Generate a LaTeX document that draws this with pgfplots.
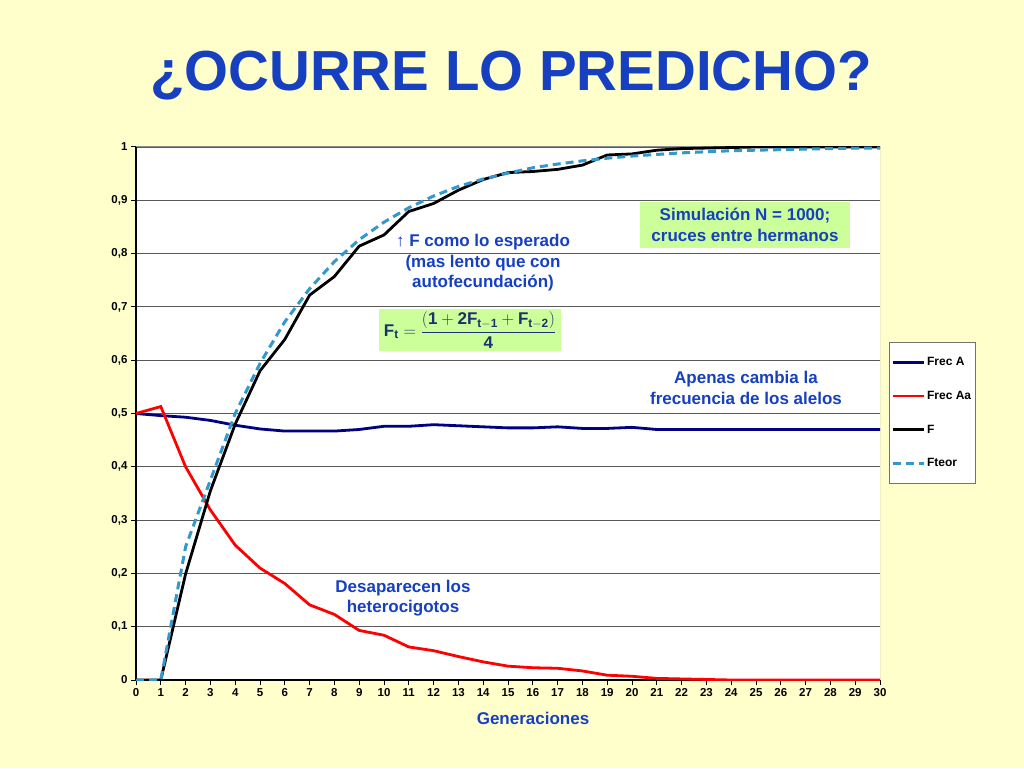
\documentclass[border=0pt]{standalone}
\usepackage{pgfplots}
\pgfplotsset{compat=1.18}
\usepackage{fontspec}
\setmainfont{Liberation Sans}

\definecolor{slidebg}{HTML}{FFFFCC}
\definecolor{titleblue}{HTML}{1740C0}
\definecolor{notegreen}{HTML}{CCFF99}
\definecolor{frecA}{HTML}{000080}
\definecolor{fteor}{HTML}{3399CC}
\definecolor{eqblue}{HTML}{1F3070}

\newcommand{\ftformula}{$\displaystyle \mathbf{F_t} = \frac{(\mathbf{1} + \mathbf{2F_{t-1}} + \mathbf{F_{t-2}})}{\mathbf{4}}$}

\begin{document}
\begin{tikzpicture}[x=1pt,y=1pt]
  %% slide background
  \fill[slidebg] (0,0) rectangle (1024,768);
  \node[text=titleblue,font=\bfseries\fontsize{56.5}{62}\selectfont] at (511,692) {¿OCURRE LO PREDICHO?};

  \begin{axis}[
      at={(136pt,88pt)}, anchor=south west,
      scale only axis,
      width=744pt, height=533pt,
      xmin=0, xmax=30, ymin=0, ymax=1,
      xtick={0,1,...,30},
      ytick={0,0.1,...,1},
      axis x line*=bottom, axis y line*=left,
      axis line style={black, line width=1.2pt},
      tick align=outside, major tick length=5pt,
      tick style={black, line width=1pt},
      ymajorgrids=true,
      grid style={black!65, line width=0.9pt},
      axis background/.style={fill=white},
      ticklabel style={font=\bfseries\fontsize{11.5}{13}\selectfont},
      /pgf/number format/.cd, use comma, fixed, precision=1, assume math mode=true,
      /pgfplots/.cd,
      xlabel={Generaciones},
      xlabel style={font=\bfseries\fontsize{17}{19}\selectfont, text=titleblue, yshift=-9pt, xshift=25pt},
      legend style={at={(1.012,0.634)}, anchor=north west, draw=black!55, fill=white,
        font=\bfseries\fontsize{12}{14}\selectfont, row sep=20pt,
        inner xsep=2pt, inner ysep=13pt,
        cells={anchor=west}},
      legend image code/.code={\draw[#1] (0pt,0pt) -- (31pt,0pt);},
    ]
    %% right and top border of the plot area
    \draw[black!45, line width=1pt] (rel axis cs:1,0) -- (rel axis cs:1,1);
    \draw[black!45, line width=1pt] (rel axis cs:0,1) -- (rel axis cs:1,1);

    \addplot[frecA, line width=2.8pt] coordinates {
      (0,0.500)(1,0.496)(2,0.493)(3,0.487)(4,0.478)(5,0.471)(6,0.467)(7,0.467)
      (8,0.467)(9,0.470)(10,0.476)(11,0.476)(12,0.479)(13,0.477)(14,0.475)
      (15,0.473)(16,0.473)(17,0.475)(18,0.472)(19,0.472)(20,0.474)(21,0.470)
      (22,0.470)(23,0.470)(24,0.470)(25,0.470)(26,0.470)(27,0.470)(28,0.470)
      (29,0.470)(30,0.470)};
    \addlegendentry{Frec A}

    \addplot[red, line width=2.8pt] coordinates {
      (0,0.500)(1,0.513)(2,0.400)(3,0.319)(4,0.253)(5,0.210)(6,0.181)(7,0.141)
      (8,0.123)(9,0.093)(10,0.084)(11,0.062)(12,0.055)(13,0.044)(14,0.034)
      (15,0.026)(16,0.023)(17,0.022)(18,0.017)(19,0.009)(20,0.007)(21,0.003)
      (22,0.002)(23,0.001)(24,0)(25,0)(26,0)(27,0)(28,0)(29,0)(30,0)};
    \addlegendentry{Frec Aa}

    \addplot[black, line width=2.8pt] coordinates {
      (0,0)(1,0)(2,0.199)(3,0.355)(4,0.480)(5,0.580)(6,0.639)(7,0.722)
      (8,0.757)(9,0.814)(10,0.835)(11,0.879)(12,0.894)(13,0.919)(14,0.939)
      (15,0.952)(16,0.954)(17,0.958)(18,0.966)(19,0.985)(20,0.987)(21,0.994)
      (22,0.997)(23,0.998)(24,0.999)(25,1)(26,1)(27,1)(28,1)(29,1)(30,1)};
    \addlegendentry{F}

    \addplot[fteor, line width=3pt, dash pattern=on 8pt off 5pt] coordinates {
      (0,0)(1,0)(2,0.250)(3,0.375)(4,0.500)(5,0.594)(6,0.672)(7,0.734)
      (8,0.785)(9,0.826)(10,0.859)(11,0.886)(12,0.908)(13,0.926)(14,0.940)
      (15,0.951)(16,0.961)(17,0.968)(18,0.974)(19,0.979)(20,0.983)(21,0.986)
      (22,0.989)(23,0.991)(24,0.993)(25,0.994)(26,0.995)(27,0.996)(28,0.997)
      (29,0.998)(30,0.998)};
    \addlegendentry{Fteor}
  \end{axis}

  %% annotations (pixel positions of the slide, y measured from the bottom)
  \begin{scope}[every node/.style={text=titleblue, font=\bfseries\fontsize{17}{20.5}\selectfont, align=center}]
    \node at (483,505) {↑ F como lo esperado\\(mas lento que con\\autofecundación)};
    \node[fill=notegreen, inner xsep=11pt, inner ysep=6pt] at (745,543) {Simulación N = 1000;\\cruces entre hermanos};
    \node at (746,380) {Apenas cambia la\\frecuencia de los alelos};
    \node at (403,170) {Desaparecen los\\heterocigotos};
  \end{scope}
  \node[fill=notegreen, text=eqblue, inner xsep=5pt, inner ysep=3pt, font=\fontsize{17}{20}\selectfont] at (470,438) {\ftformula};
\end{tikzpicture}
\end{document}
